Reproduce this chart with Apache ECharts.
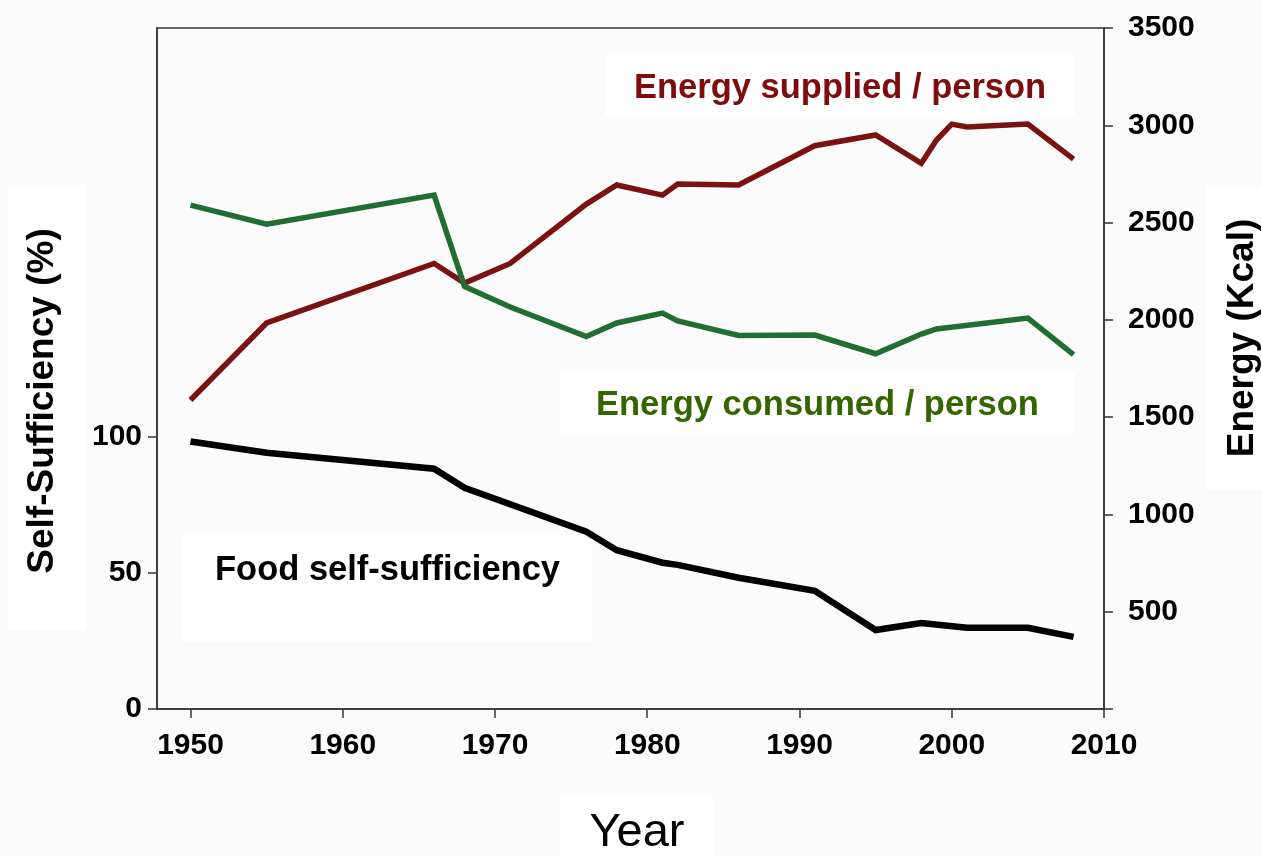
<!DOCTYPE html>
<html>
<head>
<meta charset="utf-8">
<script src="https://cdn.jsdelivr.net/npm/echarts@6/dist/echarts.min.js"></script>
<style>
html,body{margin:0;padding:0;background:#fbfbfb;}
#chart{width:1262px;height:856px;}
</style>
</head>
<body>
<div id="chart"></div>
<script>
// ---- data ----
const foodYears = [1950,1955,1966,1968,1976,1978,1981,1982,1986,1991,1995,1998,2001,2005,2008];
const foodSelfSufficiency = [98.2,94.1,88.2,81.2,65.1,58.3,53.7,52.9,48.2,43.4,29.0,31.6,29.8,29.8,26.5];

const suppliedYears = [1950,1955,1966,1968,1971,1976,1978,1981,1982,1986,1991,1995,1998,1999,2000,2001,2005,2008];
const energySupplied = [1588,1984,2290,2189,2290,2595,2693,2641,2698,2693,2895,2950,2805,2924,3006,2991,3006,2826];

const consumedYears = [1950,1955,1966,1968,1971,1976,1978,1981,1982,1986,1991,1995,1998,1999,2005,2008];
const energyConsumed = [2590,2492,2641,2172,2066,1914,1984,2035,1994,1920,1922,1826,1927,1953,2009,1821];

const xTickValues = [1950,1960,1970,1980,1990,2000,2010];
const leftTickValues = [0,50,100];
const rightTickValues = [500,1000,1500,2000,2500,3000,3500];

const pairs = (xs, ys) => xs.map((x, i) => [x, ys[i]]);
const plain = v => String(v);

const FONT = '"Liberation Sans", Arial, sans-serif';
const chart = echarts.init(document.getElementById('chart'));
const axisLineStyle = {color:'#333', width:1.5};
const tickLabel = {fontSize:30, fontWeight:'bold', color:'#000', fontFamily:FONT, formatter:plain};

chart.setOption({
  backgroundColor:'#fbfbfb',
  animation:false,
  grid:{left:157, right:158, top:28, bottom:147, show:true, borderColor:'#333', borderWidth:1.5, backgroundColor:'transparent'},
  xAxis:{
    type:'value', min:1947.8, max:2010,
    axisLine:{show:true, lineStyle:axisLineStyle},
    axisTick:{show:true, customValues:xTickValues, length:9, inside:false, lineStyle:axisLineStyle},
    axisLabel:Object.assign({customValues:xTickValues, margin:22}, tickLabel),
    splitLine:{show:false}
  },
  yAxis:[{
    type:'value', min:0, max:250, position:'left',
    axisLine:{show:true, lineStyle:axisLineStyle},
    axisTick:{show:true, customValues:leftTickValues, length:9, lineStyle:axisLineStyle},
    axisLabel:Object.assign({customValues:leftTickValues, margin:15}, tickLabel),
    splitLine:{show:false}
  },{
    type:'value', min:0, max:3500, position:'right',
    axisLine:{show:true, lineStyle:axisLineStyle},
    axisTick:{show:true, customValues:[0].concat(rightTickValues), length:9, lineStyle:axisLineStyle},
    axisLabel:Object.assign({customValues:rightTickValues, margin:24}, tickLabel),
    splitLine:{show:false}
  }],
  graphic:[
    {type:'rect', z:-10, silent:true, shape:{x:605,y:55,width:470,height:62}, style:{fill:'#ffffff'}},
    {type:'rect', z:-10, silent:true, shape:{x:560,y:371,width:515,height:62}, style:{fill:'#ffffff'}},
    {type:'rect', z:-10, silent:true, shape:{x:182,y:535,width:410,height:107}, style:{fill:'#ffffff'}},
    {type:'rect', z:-10, silent:true, shape:{x:8,y:185,width:78,height:445}, style:{fill:'#ffffff'}},
    {type:'rect', z:-10, silent:true, shape:{x:1205,y:185,width:57,height:305}, style:{fill:'#ffffff'}},
    {type:'rect', z:-10, silent:true, shape:{x:560,y:795,width:153,height:61}, style:{fill:'#ffffff'}},
    {type:'text', z:100, x:634, y:88, style:{text:'Energy supplied / person', fill:'#7f0c0c', font:'bold 34.5px '+FONT, textAlign:'left', textVerticalAlign:'middle'}},
    {type:'text', z:100, x:596, y:405, style:{text:'Energy consumed / person', fill:'#336600', font:'bold 34.5px '+FONT, textAlign:'left', textVerticalAlign:'middle'}},
    {type:'text', z:100, x:215, y:570, style:{text:'Food self-sufficiency', fill:'#000', font:'bold 34.5px '+FONT, textAlign:'left', textVerticalAlign:'middle'}},
    {type:'text', z:100, x:43, y:401, rotation:Math.PI/2, style:{text:'Self-Sufficiency (%)', fill:'#000', font:'bold 37px '+FONT, textAlign:'center', textVerticalAlign:'middle'}},
    {type:'text', z:100, x:1243, y:338, rotation:Math.PI/2, style:{text:'Energy (Kcal)', fill:'#000', font:'bold 37px '+FONT, textAlign:'center', textVerticalAlign:'middle'}},
    {type:'text', z:100, x:637, y:833, style:{text:'Year', fill:'#000', font:'47px '+FONT, textAlign:'center', textVerticalAlign:'middle'}}
  ],
  series:[
    {name:'Energy supplied / person', type:'line', xAxisIndex:0, yAxisIndex:1, data:pairs(suppliedYears, energySupplied),
     showSymbol:false, symbol:'none', z:3, lineStyle:{color:'#7b1212', width:5.5, join:'miter'}},
    {name:'Energy consumed / person', type:'line', xAxisIndex:0, yAxisIndex:1, data:pairs(consumedYears, energyConsumed),
     showSymbol:false, symbol:'none', z:4, lineStyle:{color:'#226e32', width:5.5, join:'miter'}},
    {name:'Food self-sufficiency', type:'line', xAxisIndex:0, yAxisIndex:0, data:pairs(foodYears, foodSelfSufficiency),
     showSymbol:false, symbol:'none', z:5, lineStyle:{color:'#000000', width:6.5, join:'miter'}}
  ]
});
</script>
</body>
</html>
